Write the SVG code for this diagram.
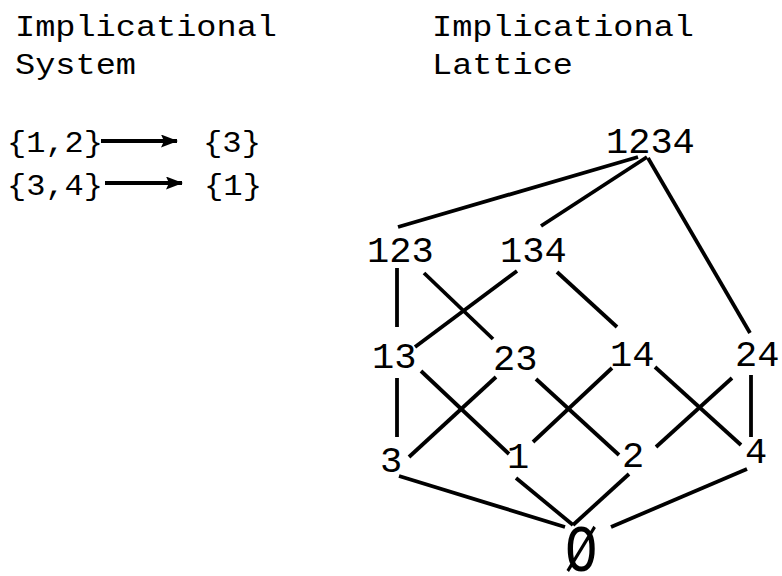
<svg xmlns="http://www.w3.org/2000/svg" width="782" height="576" viewBox="0 0 782 576">
<style>
.t{font-family:"Liberation Mono","Courier New",monospace;font-size:29px;fill:#000}
.n{font-family:"Liberation Mono","Courier New",monospace;font-size:37px;fill:#000}
.e{stroke:#000;stroke-width:3.8;stroke-linecap:butt;fill:none}
.a{stroke:#000;stroke-width:4;fill:none}
</style>
<defs>
<marker id="ah" markerWidth="17" markerHeight="13" refX="16" refY="6.5" orient="auto" markerUnits="userSpaceOnUse">
<path d="M0,0 L17,6.5 L0,13 L3,6.5 Z" fill="#000"/>
</marker>
</defs>
<rect width="782" height="576" fill="#fff"/>
<g id="titles">
<text class="t" x="15" y="36" textLength="262" lengthAdjust="spacingAndGlyphs">Implicational</text>
<text class="t" x="15" y="74" textLength="121" lengthAdjust="spacingAndGlyphs">System</text>
<text class="t" x="432" y="36" textLength="262" lengthAdjust="spacingAndGlyphs">Implicational</text>
<text class="t" x="432" y="74" textLength="141" lengthAdjust="spacingAndGlyphs">Lattice</text>
</g>
<g id="rules">
<text class="t" x="7" y="152" textLength="96" lengthAdjust="spacingAndGlyphs">{1,2}</text>
<text class="t" x="203" y="152" textLength="58" lengthAdjust="spacingAndGlyphs">{3}</text>
<text class="t" x="7" y="195" textLength="96" lengthAdjust="spacingAndGlyphs">{3,4}</text>
<text class="t" x="204" y="195" textLength="58" lengthAdjust="spacingAndGlyphs">{1}</text>
<line class="a" x1="101" y1="141" x2="177" y2="141" marker-end="url(#ah)"/>
<line class="a" x1="105" y1="183" x2="182" y2="183" marker-end="url(#ah)"/>
</g>
<g id="connectors">
<line class="e" x1="638" y1="157" x2="398" y2="227"/>
<line class="e" x1="647" y1="157" x2="541" y2="226"/>
<line class="e" x1="648" y1="158" x2="750" y2="333"/>
<line class="e" x1="397" y1="268" x2="397" y2="327"/>
<line class="e" x1="424" y1="273" x2="493" y2="339"/>
<line class="e" x1="517" y1="271" x2="415" y2="347"/>
<line class="e" x1="557" y1="272" x2="617" y2="327"/>
<line class="e" x1="751" y1="375" x2="751" y2="437"/>
<line class="e" x1="732" y1="378" x2="656" y2="447"/>
<line class="e" x1="655" y1="367" x2="741" y2="445"/>
<line class="e" x1="612" y1="368" x2="533" y2="442"/>
<line class="e" x1="536" y1="379" x2="619" y2="455"/>
<line class="e" x1="496" y1="377" x2="409" y2="457"/>
<line class="e" x1="421" y1="371" x2="509" y2="454"/>
<line class="e" x1="397" y1="378" x2="397" y2="437"/>
<line class="e" x1="399" y1="476" x2="565" y2="527"/>
<line class="e" x1="516" y1="478" x2="573" y2="525"/>
<line class="e" x1="629" y1="474" x2="573" y2="525"/>
<line class="e" x1="747" y1="469" x2="611" y2="527"/>
</g>
<g id="n1234"><text class="n" x="606" y="153">1234</text></g>
<g id="n123"><text class="n" x="367" y="262">123</text></g>
<g id="n134"><text class="n" x="500" y="262">134</text></g>
<g id="n13"><text class="n" x="372" y="368">13</text></g>
<g id="n23"><text class="n" x="493" y="370">23</text></g>
<g id="n14"><text class="n" x="610" y="366">14</text></g>
<g id="n24"><text class="n" x="735" y="366">24</text></g>
<g id="n3"><text class="n" x="380" y="472">3</text></g>
<g id="n1"><text class="n" x="507" y="468">1</text></g>
<g id="n2"><text class="n" x="622" y="467">2</text></g>
<g id="n4"><text class="n" x="745" y="463">4</text></g>
<g id="nempty"><text class="n" transform="translate(565,571) scale(0.82,1)" x="0" y="0" style="font-size:66px">Ø</text></g>
</svg>
